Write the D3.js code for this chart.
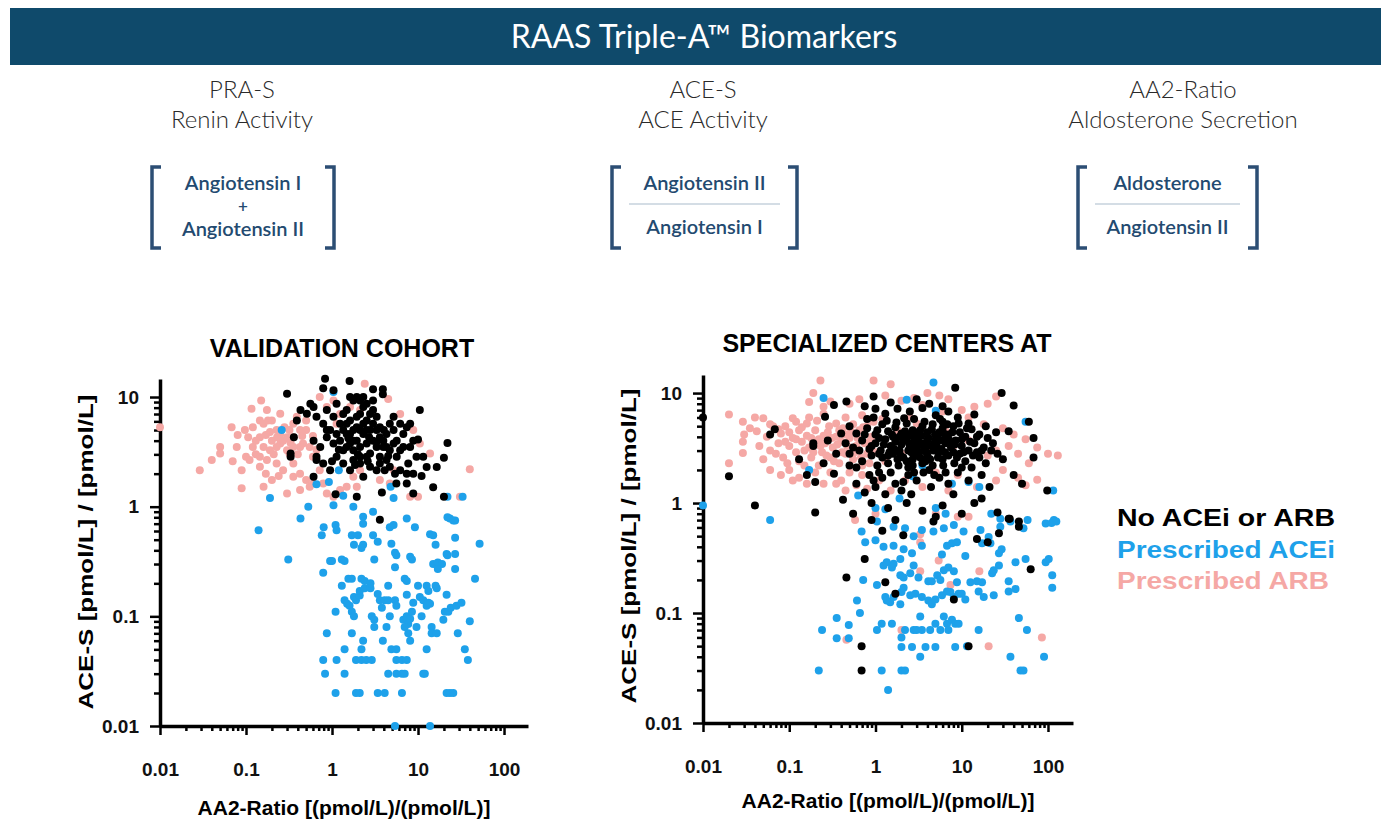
<!DOCTYPE html>
<html>
<head>
<meta charset="utf-8">
<script src="https://cdn.jsdelivr.net/npm/d3@7"></script>
<style>
  body { margin: 0; background: #fff; }
  .axis .domain { stroke: #000; stroke-width: 3.5; }
  .axis line { stroke: #000; stroke-width: 2.5; }
  .axis text { font-family: "Liberation Sans", Arial, sans-serif; font-weight: bold; font-size: 19px; fill: #111; }
</style>
</head>
<body>
<svg id="chart" width="1381" height="825"></svg>
<script>
// ---- data ----
var xTicks = [0.01, 0.1, 1, 10, 100]
var xTickLabels = ["0.01", "0.1", "1", "10", "100"]
var yTicks = [0.01, 0.1, 1, 10]
var yTickLabels = ["0.01", "0.1", "1", "10"]
var groups = ["No ACEi or ARB", "Prescribed ACEi", "Prescribed ARB"]
var groupColours = ["#000000", "#1ea1ea", "#f5a8a5"]

// validation cohort: [AA2-ratio, ACE-S]
var leftNone = [[0.3,10.7],[0.83,14.7],[1.6,14],[1.04,11.5],[0.79,12],[3.0,11.8],[3.9,11.8],[3.9,10.6],[10.5,7.6],[22,3.8],[20,2.8],[15,1.5],[20,1.23],[12.6,2.3],[16.5,2.3],[11.5,2.85],[9.6,2.85],[7.4,2.0],[8.8,2.0],[5.6,1.63],[7.4,1.63],[8.8,1.32],[11,1.9],[3.8,1.35],[1.94,1.23],[1.1,1.3],[0.61,1.87],[0.66,2.66],[0.33,3.05],[0.33,2.85],[0.36,4.3],[0.39,6.1],[0.43,7.6],[0.51,7.05],[0.61,8.1],[3.6,0.76],
  [0.56,8.7],[0.66,6.6],[0.79,5.7],[0.87,7.6],[0.95,5.0],[1.04,6.6],[1.13,8.7],[1.24,5.7],[1.35,5.0],[1.48,7.6],[1.62,6.1],[1.77,9.3],[1.94,5.3],[2.12,7.0],[2.31,8.1],[2.53,6.1],[2.77,5.0],[3.0,7.6],[3.3,6.6],[3.6,5.3],[3.95,4.0],[4.3,4.6],[4.7,5.7],[5.2,5.0],[5.65,4.0],[6.2,5.7],[6.75,4.6],[7.4,5.3],[8.1,3.5],[8.8,4.0],[10,4.1],
  [0.61,4.0],[0.73,3.5],[0.87,4.3],[1.04,3.77],[1.24,4.0],[1.35,3.27],[1.48,4.6],[1.62,3.77],[1.77,3.27],[1.94,4.0],[2.12,3.5],[2.31,4.6],[2.53,3.77],[2.77,3.05],[3.0,4.0],[3.3,3.5],[3.6,2.85],[3.95,3.5],[4.3,2.66],[4.7,3.27],[5.2,3.77],[5.65,2.85],[6.2,3.27],[6.75,3.5],[7.7,2.48],
  [0.66,2.85],[0.79,2.48],[0.95,2.15],[1.13,2.85],[1.35,2.48],[1.62,2.15],[1.77,2.66],[2.12,2.48],[2.31,1.87],[2.53,2.85],[2.77,2.31],[3.3,2.15],[3.6,2.48],[4.1,2.15],[4.7,2.31],[5.4,2.0],[6.2,2.15],
  [0.87,5.0],[1.13,4.6],[1.48,5.7],[1.94,6.6],[2.31,5.7],[2.77,7.0],[1.77,5.0],[2.12,5.0],[3.3,5.0],[1.35,7.0],[1.62,10],[1.94,10],[2.12,9.3],[2.31,10],[3.0,9.3],[2.53,8.7],
  [1.77,4.0],[1.48,3.5],[2.53,5.0],[3.0,5.7],[3.6,4.3],[4.3,3.5],[2.12,2.85],[1.62,4.6],[5.2,6.6],[8.1,5.7],
  [1.2,3.3],[1.55,4.2],[2.0,3.0],[2.7,4.3],[3.3,3.9],[4.0,5.0],[1.0,2.6],[1.85,2.4],[2.6,2.6],[4.5,2.9]]

var leftAcei = [[0.14,0.61],[0.31,0.33],[0.76,0.55],[0.8,0.65],[1.1,0.68],[1.13,0.61],[0.95,0.32],[1.0,0.32],[1.3,0.33],[1.4,0.32],[0.79,0.25],[0.87,0.07],[0.79,0.04],[0.83,0.03],
  [1.1,0.11],[1.1,0.02],[1.13,0.04],[1.4,0.05],[1.4,0.03],[1.3,0.19],[1.55,0.22],[1.7,0.22],[1.4,0.14],[1.5,0.13],[1.6,0.125],[1.7,0.11],[1.8,0.1],[1.7,0.55],[2.0,0.55],
  [1.8,0.45],[2.3,0.45],[2.2,0.42],[1.7,0.07],[1.9,0.04],[2.2,0.04],[2.5,0.04],[2.9,0.04],[1.9,0.02],[2.1,0.02],[2.2,0.05],[2.3,0.06],[1.8,0.15],[1.9,0.14],[2.1,0.155],
  [2.1,0.17],[2.4,0.18],[2.8,0.18],[2.2,0.22],[2.4,0.21],[2.8,0.2],[2.3,0.7],[3.0,0.55],[3.4,0.48],[3.1,0.33],[2.9,0.1],[3.1,0.093],[3.1,0.08],[3.4,0.16],[3.6,0.14],
  [4.1,0.14],[4.5,0.14],[3.8,0.12],[3.9,0.06],[3.4,0.02],[4.1,0.02],[4.5,0.19],[4.3,0.08],[4.7,0.1],[4.5,0.03],[4.9,0.46],[5.4,0.38],[5.6,0.36],[5.2,0.68],[4.7,0.65],
  [5.4,0.28],[4.9,0.05],[5.6,0.05],[5.4,0.14],[5.6,0.125],[5.6,0.04],[6.5,0.04],[7.4,0.04],[5.6,0.03],[6.5,0.03],[7.0,0.03],[6.5,0.02],[5.4,0.01],[7.0,0.22],[7.4,0.21],
  [6.75,0.093],[7.4,0.1],[7.7,0.085],[7.0,0.08],[8.1,0.095],[8.5,0.11],[7.7,0.07],[8.1,0.06],[7.4,0.157],[8.1,0.35],[8.5,0.33],[8.8,0.133],[9.2,0.65],[9.6,0.08],
  [10,0.19],[10.5,0.15],[11.5,0.14],[11,0.1],[11.5,0.03],[12,0.03],[12.6,0.05],[12.6,0.19],[13.2,0.17],[13.2,0.133],[12.6,0.125],[13.8,0.13],[13.8,0.56],[15,0.55],
  [16,0.45],[14.4,0.08],[14.4,0.07],[16.5,0.07],[16,0.19],[16.5,0.18],[13.8,0.01],[15,0.3],[17,0.31],[19,0.3],[17,0.27],[19.7,0.093],[21.5,0.37],[20.5,0.11],[22.5,0.11],
  [21.5,0.157],[21.5,0.02],[23.5,0.02],[25.7,0.02],[23.5,0.78],[27,0.75],[27,0.52],[27,0.37],[27,0.27],[22,0.36],[24,0.12],[28,0.125],[32,0.133],[29,0.07],[35,0.05],
  [38,0.04],[40,0.09],[46,0.22],[52,0.46],
  [1.04,11.1],[0.26,5.0],[0.66,1.6],[0.92,1.68],[1.35,1.26],[4.8,1.52],[22,1.23],[33,1.23],[0.19,1.2],[1.2,2.15],[0.53,1.0],[0.43,0.78],[1.04,1.03],[1.77,1.0],
  [2.3,0.81],[3.0,0.9],[7.4,0.78],[22,0.8],[25.7,0.75],[5.2,1.2]]

var leftArb = [[0.01,5.3],[0.029,2.15],[0.04,2.66],[0.05,3.05],[0.05,3.5],[0.068,5.3],[0.078,3.5],[0.089,2.15],[0.089,1.47],[0.097,5.0],[0.106,4.3],[0.116,7.8],[0.15,9.3],
  [0.12,5.3],[0.145,6.1],[0.16,5.7],[0.18,6.1],[0.145,4.3],[0.16,3.5],[0.175,2.66],[0.145,2.85],[0.19,4.8],[0.2,4.0],[0.227,5.0],[0.25,4.6],[0.25,3.77],[0.27,4.0],
  [0.3,4.3],[0.32,5.0],[0.355,5.7],[0.39,6.6],[0.425,5.0],[0.46,3.77],[0.2,6.1],[0.1,2.85],[0.11,2.66],[0.145,2.31],[0.16,1.52],[0.2,1.75],[0.227,2.48],[0.27,2.15],
  [0.355,2.48],[0.355,1.87],[0.425,2.0],[0.32,3.05],[0.3,1.32],[0.425,1.42],[0.5,1.75],[0.55,1.52],[0.6,1.63],[0.72,2.15],[0.79,1.63],[0.87,1.32],[1.04,1.23],
  [1.24,1.42],[1.48,1.52],[1.77,1.87],[1.94,1.52],[2.12,2.15],[0.72,10],[0.87,8.1],[1.04,9.3],[1.24,7.0],[1.13,5.7],[1.62,8.1],[2.12,7.6],[2.4,13.2],[4.5,9.6],
  [6.2,7.0],[8.8,5.0],[10.5,3.77],[13.8,3.05],[40,2.2],[30.7,1.23],[10,1.23],[5.2,2.15],[4.7,1.63],[3.6,1.75],[0.175,7.6],[0.25,7.05],[0.5,5.0],[0.55,3.5],
  [0.6,2.85],[0.425,3.5],[0.355,3.5],[0.3,3.27],[0.227,3.5],[0.19,3.27],[0.13,4.0],[0.12,3.5],[0.355,4.3],[0.5,6.1],[8.1,1.23],
  [0.13,3.0],[0.17,4.5],[0.21,3.0],[0.23,4.3],[0.28,5.3],[0.33,3.8],[0.4,3.0],[0.45,4.4],[0.17,2.0],[0.24,1.9],[0.08,4.5],[0.07,2.6],[0.6,4.4],[0.66,3.3]]

// specialized centers AT
var rightNone = [[0.01,6],[0.02,1.75],[0.04,0.95],[0.2,0.82],[0.06,4.2],[0.068,4.7],[0.13,2.5],[0.16,1.8],[0.2,1.55],[0.19,3.5],[0.19,3.3],[0.25,2.3],[0.26,6.1],
  [0.33,7.8],[0.46,8.4],[0.33,1.85],[0.42,1.07],[0.95,9.3],[0.75,7.6],[8.4,11.2],[29,10],[40,7.7],[60,5.5],[68,3.9],[68,2.6],[98,1.3],[46,0.61],[35,0.72],[26,0.82],[17,1.1],
  [0.9,0.7],[1.7,0.7],[4.7,0.68],[46,0.68],[36,0.72],[1.2,0.56],[2.1,0.51],[15,0.47],[20,0.44],[27,0.53],[0.75,0.31],[0.46,0.21],[1.3,0.19],[1.7,0.15],[8.1,0.133],
  [63,0.25],[0.69,0.05],[0.69,0.03],[12,0.05],
  [0.95,6],[1.3,6.5],[1.8,7.2],[2.5,6.8],[3.5,7.3],[5,6.3],[7,6.8],[4.2,8],[2.8,5.8],[6,5.5],[9,6],[12,5.3],[14,6.4],
  [0.5,5],[0.6,4.3],[0.8,4.8],[1.0,4.2],[1.2,5.2],[1.4,4.5],[1.7,4.9],[2.0,4.3],[2.3,5.3],[2.7,4.6],[3.0,4.1],[3.5,5.0],[4.0,4.4],[4.6,5.2],[5.2,4.0],[6,4.8],[7,4.2],
  [8,5.0],[9.5,4.4],[11,4.0],[13,4.7],[16,4.2],[20,3.9],[25,4.4],
  [0.45,3.5],[0.55,3.2],[0.7,3.7],[0.85,3.1],[1.0,3.5],[1.15,3.0],[1.3,3.8],[1.5,3.3],[1.7,3.6],[1.9,3.0],[2.2,3.7],[2.5,3.2],[2.8,3.9],[3.2,3.4],[3.6,3.0],[4.0,3.7],
  [4.5,3.3],[5.0,3.8],[5.8,3.1],[6.5,3.5],[7.5,3.2],[8.5,3.7],[10,3.3],[12,3.0],[14,3.5],[18,3.2],[22,3.0],
  [0.5,2.8],[0.7,2.4],[0.9,2.7],[1.05,2.2],[1.2,2.6],[1.4,2.3],[1.6,2.8],[1.85,2.2],[2.1,2.6],[2.4,2.1],[2.7,2.5],[3.1,2.9],[3.5,2.3],[4.0,2.7],[4.6,2.2],[5.3,2.6],
  [6.1,2.2],[7,2.7],[8.2,2.3],[9.5,2.8],[11,2.4],[13,2.1],[16,2.6],[19,2.3],[30,2.5],
  [0.6,1.5],[0.85,1.8],[1.0,1.4],[1.2,1.7],[1.5,1.9],[1.7,1.5],[2.0,1.3],[2.4,1.8],[3.0,1.6],[3.6,1.9],[4.4,1.4],[5.5,1.7],[7,1.5],[9,1.9],[12,1.6],[17,1.8],[21,1.4],
  [0.75,1.25],[1.3,1.2],[2.6,1.2],[8,1.2],[40,1.8],[50,1.5],
  [0.9,1.0],[1.4,0.9],[2.3,1.0],[3.5,0.85],[6,0.95],[10,0.8],[14,1.0],[0.55,0.8],[5,0.75],
  [1.1,3.9],[1.6,4.0],[2.2,4.5],[2.9,3.5],[3.3,4.6],[3.9,3.3],[4.8,3.5],[5.5,4.4],[6.8,3.9],[8,2.9],[1.4,2.7],[1.8,2.5],[2.6,2.9],[3.8,2.4],[4.2,2.0],[5.0,3.0],
  [6.0,2.5],[2.0,3.4],[2.4,3.0],[3.0,3.2],
  [0.8,5.8],[0.9,3.3],[1.05,4.6],[1.1,2.8],[1.25,3.4],[1.35,5.6],[1.45,2.9],[1.55,4.2],[1.65,3.1],[1.75,5.4],[1.9,4.0],[1.95,2.7],[2.05,3.9],[2.15,5.9],[2.3,2.4],
  [2.35,4.0],[2.45,3.5],[2.6,4.3],[2.7,2.2],[2.85,4.4],[3.0,2.7],[3.1,3.8],[3.3,2.6],[3.4,4.1],[3.6,3.5],[3.7,5.5],[3.9,2.9],[4.1,3.9],[4.3,2.5],[4.5,4.7],[4.7,3.0],
  [4.9,4.2],[5.1,3.4],[5.4,2.9],[5.6,5.8],[5.9,3.7],[6.2,4.3],[6.4,2.9],[6.8,5.2],[7.2,3.7],[7.8,4.4],[8.3,3.4],[8.8,2.6],[9.2,5.3],[10,3.8],[10.5,2.9],[11.5,4.8],
  [12.5,3.6],[13.5,2.7],[15,4.0],[17,3.0],[19,5.0],[23,3.5],[0.65,3.0],[0.75,4.2],[0.6,2.1],[0.95,1.6],[1.1,1.9],[2.8,1.9],[4.8,1.8],[6.5,1.9],[10,2.1],[15,2.9],
  [26,2.8],[35,4.5],[1.0,7.2],[1.5,8.2],[3.0,8.8],[6,7.6],[2.1,1.55],[0.5,2.2],[0.4,4.3],[0.35,2.8],[0.28,3.7]]

var rightAcei = [[0.06,0.7],[0.69,0.55],[1.04,0.68],[1.62,0.61],[2.2,0.59],[2.77,0.5],[3.45,0.57],[4.7,0.55],[6.2,0.59],[8.1,0.63],[10.5,0.55],[16.5,0.57],[20.5,0.49],
  [28,0.61],[36.7,0.68],[52,0.59],[94,0.65],[117,0.7],
  [0.76,0.44],[1.0,0.46],[1.24,0.4],[1.62,0.41],[1.94,0.31],[2.12,0.38],[2.65,0.35],[3.45,0.41],[5.9,0.34],[6.75,0.41],[7.7,0.43],[8.8,0.44],[11,0.33],[17.2,0.43],
  [21.5,0.43],[27,0.35],[29,0.38],[42,0.29],[55,0.31],[94,0.29],[102,0.31],
  [1.24,0.27],[1.35,0.29],[1.55,0.26],[1.62,0.28],[1.94,0.22],[2.12,0.21],[2.53,0.23],[2.77,0.27],[3.15,0.21],[4.1,0.195],[4.5,0.195],[5.2,0.22],[5.65,0.2],[6.2,0.245],
  [7.0,0.26],[8.1,0.24],[8.8,0.19],[12.6,0.19],[15,0.195],[17.2,0.19],[22.5,0.23],[23.5,0.245],[27,0.27],[35,0.195],[42,0.165],[112,0.22],[112,0.17],[0.72,0.2],[1.04,0.18],
  [0.61,0.13],[0.66,0.1],[1.3,0.14],[1.35,0.13],[1.48,0.125],[1.62,0.14],[1.94,0.12],[2.0,0.155],[2.12,0.17],[2.53,0.145],[2.9,0.15],[3.45,0.14],[4.1,0.13],[4.5,0.12],
  [4.95,0.133],[5.9,0.145],[6.75,0.157],[7.4,0.155],[8.1,0.14],[9.2,0.15],[10,0.15],[11,0.133],[15.7,0.157],[18,0.14],[23.5,0.145],[35,0.157],
  [0.355,0.09],[0.49,0.078],[1.04,0.07],[1.18,0.08],[1.55,0.08],[2.0,0.06],[2.2,0.07],[2.77,0.07],[3.0,0.07],[3.3,0.093],[3.45,0.07],[4.3,0.07],[4.95,0.08],[5.65,0.07],
  [6.2,0.093],[6.75,0.08],[7.0,0.07],[7.7,0.087],[8.4,0.08],[9.2,0.08],[15.7,0.07],[46,0.09],[57,0.07],[0.24,0.07],[0.355,0.059],[0.49,0.059],[2.0,0.049],[2.65,0.049],
  [3.8,0.049],[4.95,0.049],[8.4,0.049],[11.5,0.05],
  [0.22,0.03],[1.18,0.03],[2.0,0.03],[2.2,0.03],[3.3,0.04],[36.7,0.04],[48,0.03],[52,0.03],[90,0.04],[1.4,0.02],
  [0.01,0.95],[4.7,12.5],[2.3,8.7],[0.25,9.0],[0.63,1.17],[1.0,0.9],[1.3,0.88],[1.9,1.1],[2.7,1.75],[5,0.9],[12,1.55],[16,1.4],[55,5.5],[115,1.3],[110,0.66],
  [125,0.68],[58,0.7],[28,0.72],[22,0.8],[6.5,0.8],[7.7,1.5],[3.5,2.2],[5,6.9],[0.17,2.0]]

var rightArb = [[0.02,6.4],[0.02,2.3],[0.029,5.5],[0.029,3.6],[0.029,2.85],[0.05,5.9],[0.05,2.5],[0.055,4.0],[0.042,4.5],[0.065,5.0],[0.075,3.5],[0.08,4.3],[0.09,5.0],
  [0.1,3.3],[0.11,3.9],[0.12,2.9],[0.13,4.6],[0.14,3.6],[0.15,2.2],[0.16,4.1],[0.17,3.2],[0.18,2.6],[0.19,10],[0.23,13],[0.95,13],[0.3,8.4],[0.2,4.6],[0.22,3.8],
  [0.24,2.9],[0.26,3.5],[0.28,4.4],[0.3,2.6],[0.32,3.2],[0.35,4.0],[0.38,2.3],[0.4,3.6],[0.42,4.8],[0.45,2.8],[0.5,3.9],[0.55,2.5],[0.6,3.3],[0.65,4.6],[0.7,2.2],
  [0.75,3.5],[0.8,2.8],[0.9,4.0],[0.1,2.0],[0.13,1.7],[0.2,1.9],[0.25,1.5],[0.3,1.9],[0.4,1.6],[0.5,1.9],[0.6,1.45],[0.7,1.8],[0.8,1.35],[0.45,1.3],[0.12,5.5],
  [0.17,6.0],[0.25,6.5],[0.35,5.3],[0.45,6.0],[0.55,5.2],[0.7,6.3],[0.8,5.0],[0.25,7.5],[0.5,8.0],[0.65,8.8],[0.17,8.3],[0.06,3.0],[0.085,2.6],[0.08,1.8],
  [1.3,9.5],[2.0,8.5],[2.8,9.0],[4,10],[5.5,9.5],[7,8.8],[3.5,7.8],[10,7],[14,7.5],[20,8],[25,9.3],[1.5,12],[1.2,5.8],[2.5,6],[6,6.8],[12,6],[18,5.2],[30,4.8],
  [40,4.2],[55,3.8],[75,3.2],[130,2.7],[75,1.63],[60,2.3],[45,2.8],[35,3.3],[30,2.0],[25,1.6],[20,2.7],[15,1.4],[12,3.7],[9,1.8],[7,1.3],[5,1.9],[3.5,1.4],[2.2,1.6],
  [1.5,1.3],[1.1,1.6],[8,3.3],[4,3.0],[2,2.8],[1.3,2.4],[1.0,2.9],[0.85,3.6],[1.8,4.6],[3.0,5.3],[6.5,4.5],[25,3.0],[45,1.7],[55,1.45],[100,2.8],
  [0.58,0.7],[3.3,0.52],[3.3,0.44],[5.4,0.3],[3.3,0.24],[7.4,0.18],[16,0.24],[2.0,0.07],[0.46,0.057],[20.5,0.05],[85,0.06],[12,0.75],[9,0.75],[1.0,0.8],[5,0.8],
  [0.035,4.8],[0.045,3.3],[0.06,5.2],[0.07,2.8],[0.075,4.7],[0.09,3.6],[0.095,2.3],[0.1,4.4],[0.11,5.9],[0.12,3.8],[0.13,2.4],[0.14,4.9],[0.15,3.0],[0.16,5.3],
  [0.18,3.9],[0.19,2.9],[0.21,5.6],[0.22,2.2],[0.23,3.3],[0.25,4.1],[0.27,2.7],[0.29,5.0],[0.31,3.9],[0.33,2.4],[0.36,3.4],[0.38,4.6],[0.41,2.9],[0.44,4.2],
  [0.47,3.3],[0.52,4.5],[0.57,2.9],[0.62,3.9],[0.68,2.6],[0.72,4.9],[0.85,2.3],[0.95,5.5],[0.11,1.6],[0.16,1.5],[0.35,1.5],[0.06,2.0],[0.04,6.0],[0.03,4.2]]

// ---- header ----
var svg = d3.select("#chart")

svg.append("rect")
  .attr("x", 10).attr("y", 8)
  .attr("width", 1371).attr("height", 57)
  .attr("fill", "#0f4a6b")

svg.append("text")
  .attr("x", 704).attr("y", 48)
  .attr("text-anchor", "middle")
  .attr("fill", "#ffffff")
  .style("font-family", "Lato, 'Open Sans', sans-serif")
  .style("font-size", "32px")
  .text("RAAS Triple-A™ Biomarkers")

var columns = [
  {head: "PRA-S", sub: "Renin Activity", cx: 242, l: 152, r: 334, top: "Angiotensin I", bottom: "Angiotensin II", plus: true},
  {head: "ACE-S", sub: "ACE Activity", cx: 703, l: 612, r: 797, top: "Angiotensin II", bottom: "Angiotensin I", plus: false},
  {head: "AA2-Ratio", sub: "Aldosterone Secretion", cx: 1183, l: 1078, r: 1257, top: "Aldosterone", bottom: "Angiotensin II", plus: false}
]

columns.forEach(function(c) {
  svg.append("text").attr("x", c.cx).attr("y", 98)
    .attr("text-anchor", "middle").attr("fill", "#2a2a2a")
    .style("font-family", "Lato, sans-serif").style("font-weight", 300).style("font-size", "24px")
    .text(c.head)
  svg.append("text").attr("x", c.cx).attr("y", 128)
    .attr("text-anchor", "middle").attr("fill", "#2a2a2a")
    .style("font-family", "Lato, sans-serif").style("font-weight", 300).style("font-size", "24px")
    .text(c.sub)

  var bx = (c.l + c.r) / 2
  svg.append("path")
    .attr("d", "M" + (c.l + 9) + ",167H" + c.l + "V248H" + (c.l + 9))
    .attr("fill", "none").attr("stroke", "#2c4e74").attr("stroke-width", 3.5)
  svg.append("path")
    .attr("d", "M" + (c.r - 9) + ",167H" + c.r + "V248H" + (c.r - 9))
    .attr("fill", "none").attr("stroke", "#2c4e74").attr("stroke-width", 3.5)

  var fs = function(sel, size) {
    return sel.attr("text-anchor", "middle").attr("fill", "#234a70")
      .style("font-family", "Lato, sans-serif").style("font-weight", 600).style("font-size", (size || 20) + "px")
  }
  if (c.plus) {
    fs(svg.append("text").attr("x", bx).attr("y", 190)).text(c.top)
    fs(svg.append("text").attr("x", bx).attr("y", 212), 17).text("+")
    fs(svg.append("text").attr("x", bx).attr("y", 236)).text(c.bottom)
  } else {
    fs(svg.append("text").attr("x", bx).attr("y", 190)).text(c.top)
    svg.append("line")
      .attr("x1", c.l + 17).attr("x2", c.r - 17)
      .attr("y1", 204).attr("y2", 204)
      .attr("stroke", "#a9bccb").attr("stroke-width", 1.2)
    fs(svg.append("text").attr("x", bx).attr("y", 234)).text(c.bottom)
  }
})

// ---- scatter panels ----
function minorValues(lo, hi) {
  var out = []
  for (var k = -2; k <= 2; k++) {
    for (var m = 2; m <= 9; m++) {
      var v = m * Math.pow(10, k)
      if (v > lo && v <= hi) out.push(v)
    }
  }
  return out
}

function drawPanel(p) {
  var x = d3.scaleLog().domain([0.01, p.xMax]).range([p.left, p.right])
  var y = d3.scaleLog().domain([0.01, p.yMax]).range([p.bottom, p.top])
  var g = svg.append("g")

  // minor ticks first
  g.append("g").attr("class", "axis")
    .attr("transform", "translate(0," + p.bottom + ")")
    .call(d3.axisBottom(x).tickValues(minorValues(0.01, p.xMax)).tickSize(5).tickFormat(""))
    .select(".domain").remove()
  g.append("g").attr("class", "axis")
    .attr("transform", "translate(" + p.left + ",0)")
    .call(d3.axisLeft(y).tickValues(minorValues(0.01, p.yMax)).tickSize(6).tickFormat(""))
    .select(".domain").remove()

  g.append("g").attr("class", "axis")
    .attr("transform", "translate(0," + p.bottom + ")")
    .call(d3.axisBottom(x).tickValues(xTicks).tickSize(9).tickSizeOuter(0).tickPadding(28)
      .tickFormat(function(d, i) { return xTickLabels[i] }))
  g.append("g").attr("class", "axis")
    .attr("transform", "translate(" + p.left + ",0)")
    .call(d3.axisLeft(y).tickValues(yTicks).tickSize(10).tickSizeOuter(0).tickPadding(11)
      .tickFormat(function(d, i) { return yTickLabels[i] }))

  g.append("text")
    .attr("x", p.titleX).attr("y", p.titleY)
    .attr("text-anchor", "middle")
    .style("font-family", "'Liberation Sans', Arial, sans-serif")
    .style("font-weight", "bold").style("font-size", "25px")
    .text(p.title)

  g.append("text")
    .attr("x", (p.left + p.right) / 2).attr("y", p.xTitleY)
    .attr("text-anchor", "middle")
    .style("font-family", "'Liberation Sans', Arial, sans-serif")
    .style("font-weight", "bold").style("font-size", "21px")
    .text("AA2-Ratio [(pmol/L)/(pmol/L)]")

  g.append("text")
    .attr("transform", "translate(" + (p.left - 67) + "," + p.yTitleMid + ") rotate(-90)")
    .attr("text-anchor", "middle")
    .attr("textLength", 315)
    .attr("lengthAdjust", "spacingAndGlyphs")
    .style("font-family", "'Liberation Sans', Arial, sans-serif")
    .style("font-weight", "bold").style("font-size", "21px")
    .text("ACE-S [pmol/L] / [pmol/L]")

  var sets = [[p.arb, groupColours[2]], [p.acei, groupColours[1]], [p.none, groupColours[0]]]
  sets.forEach(function(s) {
    g.append("g").selectAll("circle")
      .data(s[0]).enter().append("circle")
      .attr("cx", function(d) { return x(d[0]) })
      .attr("cy", function(d) { return y(d[1]) })
      .attr("r", 4)
      .attr("fill", s[1])
  })
}

drawPanel({left: 160, right: 528, top: 379, bottom: 726, xMax: 190, yMax: 14.6,
  title: "VALIDATION COHORT", titleX: 342, titleY: 357, xTitleY: 815, yTitleMid: 552,
  none: leftNone, acei: leftAcei, arb: leftArb})

drawPanel({left: 703, right: 1073, top: 375, bottom: 723, xMax: 195, yMax: 14.6,
  title: "SPECIALIZED CENTERS AT", titleX: 887, titleY: 352, xTitleY: 808, yTitleMid: 546,
  none: rightNone, acei: rightAcei, arb: rightArb})

// ---- legend ----
var legendLengths = [218, 218, 212]
svg.append("g").selectAll("text")
  .data(groups).enter().append("text")
  .attr("x", 1117)
  .attr("y", function(d, i) { return 526 + i * 31.5 })
  .attr("fill", function(d, i) { return groupColours[i] })
  .attr("textLength", function(d, i) { return legendLengths[i] })
  .attr("lengthAdjust", "spacingAndGlyphs")
  .style("font-family", "'Liberation Sans', Arial, sans-serif")
  .style("font-weight", "bold").style("font-size", "24px")
  .text(function(d) { return d })
</script>
</body>
</html>
